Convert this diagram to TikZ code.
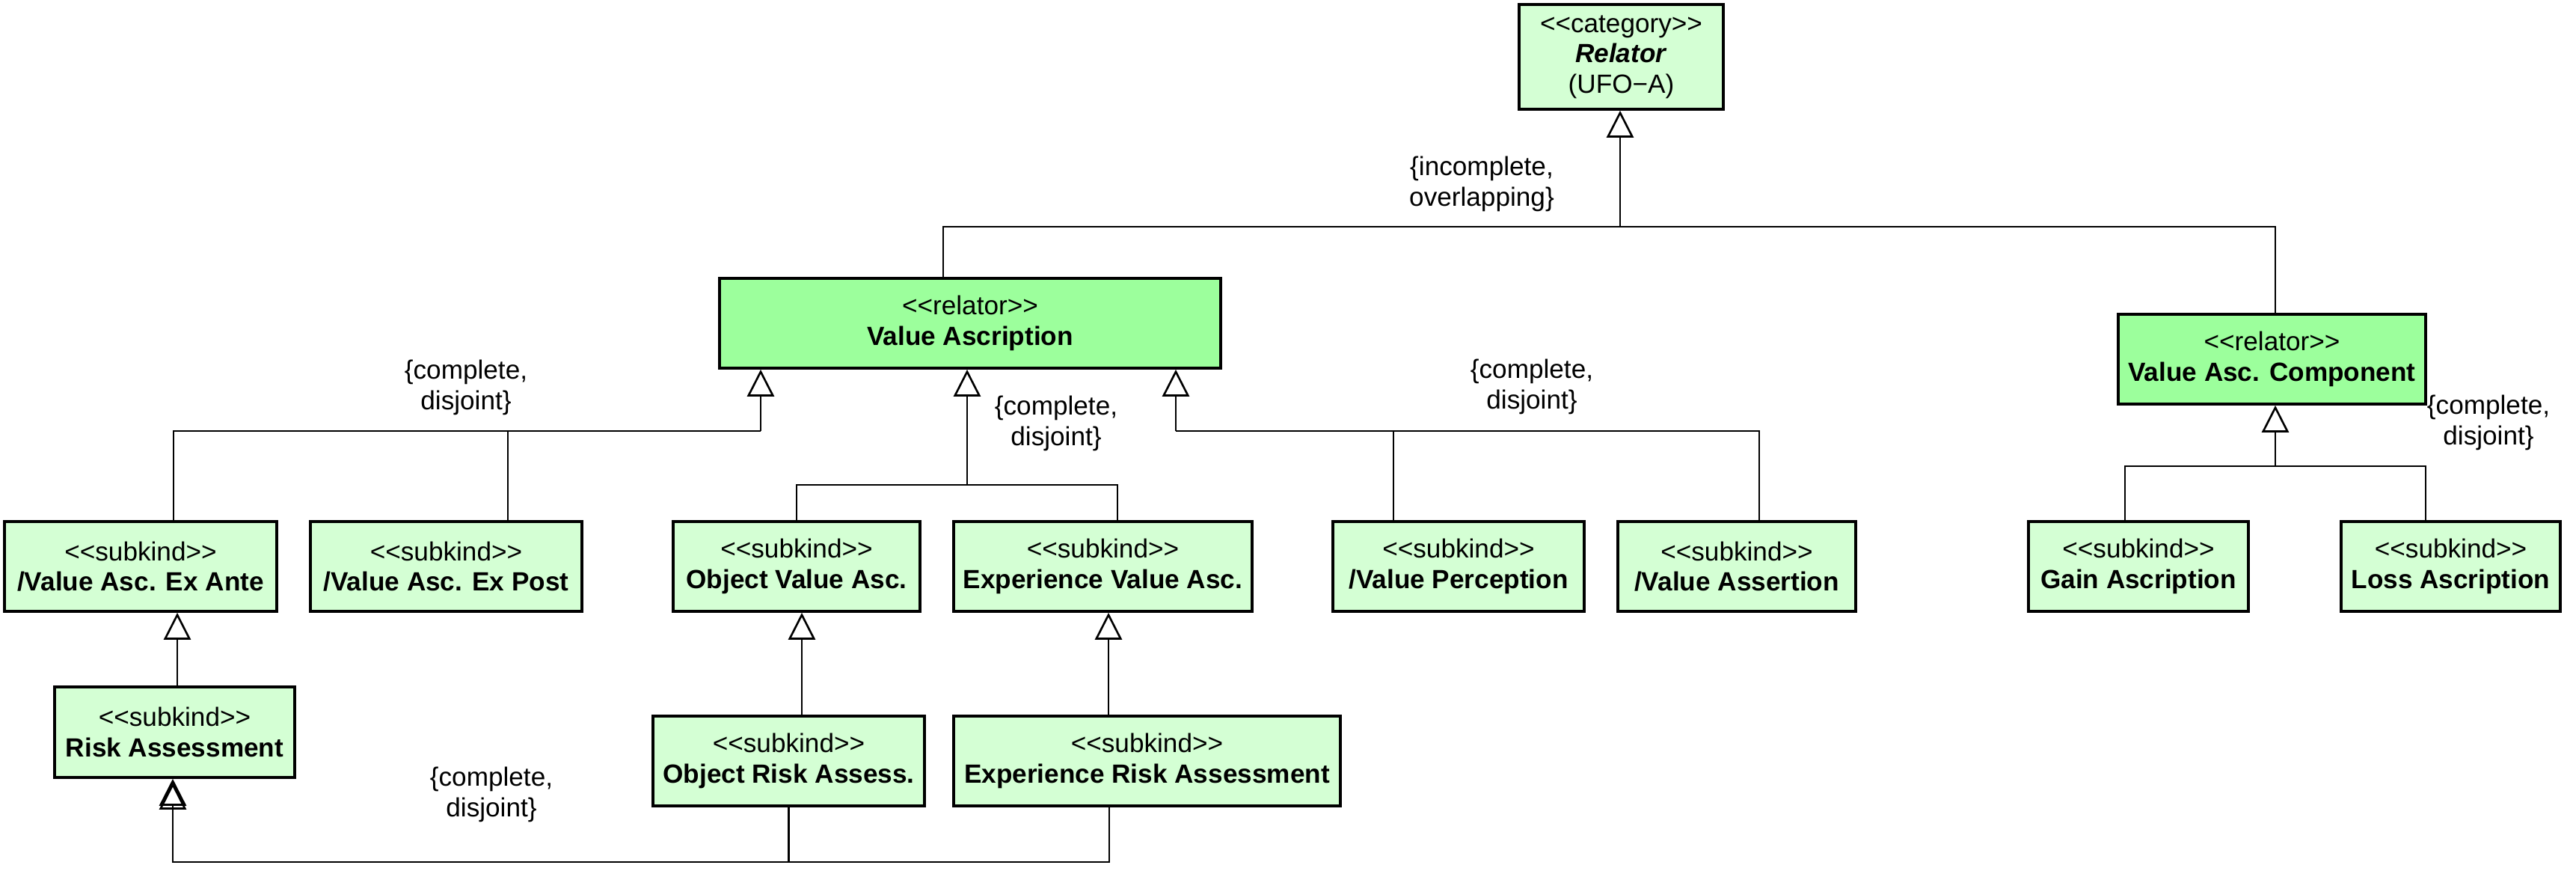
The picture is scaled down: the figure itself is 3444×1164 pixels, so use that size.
\documentclass[tikz,border=0pt]{standalone}
\usepackage{fontspec}
\setmainfont{Liberation Sans}
\usetikzlibrary{arrows.meta}
\definecolor{Subkind}{HTML}{D4FFD4}
\definecolor{Relator}{HTML}{9CFF9C}
\newcommand{\stereo}[1]{<{}<#1>{}>}
\begin{document}
\begin{tikzpicture}[x=0.01cm,y=-0.01cm,
box/.style={draw,line width=1pt,fill=#1,minimum height=1.2cm,align=center,inner sep=0pt},
conn/.style={line width=0.75pt},
gen/.style={conn,-{Triangle[open,width=3.6mm,length=3.6mm]}},
lbl/.style={align=center,inner sep=0pt},
nodes={font=\fontsize{10}{11.5}\selectfont}]
\useasboundingbox (0,0) rectangle (3444,1164);
% classes
\node[box=Subkind,minimum width=2.73cm,minimum height=1.4cm] (relcat) at (2167.5,76)
  {\stereo{category}\\\textbf{\textit{Relator}}\\(UFO−A)};
\node[box=Relator,minimum width=6.7cm] (va) at (1297,432) {\stereo{relator}\\\textbf{Value Ascription}};
\node[box=Relator,minimum width=4.11cm] (vac) at (3037.5,480) {\stereo{relator}\\\textbf{Value Asc. Component}};
\node[box=Subkind,minimum width=3.64cm] (exante) at (188,757) {\stereo{subkind}\\\textbf{/Value Asc. Ex Ante}};
\node[box=Subkind,minimum width=3.63cm] (expost) at (596.5,757) {\stereo{subkind}\\\textbf{/Value Asc. Ex Post}};
\node[box=Subkind,minimum width=3.3cm] (ova) at (1065,757) {\stereo{subkind}\\\textbf{Object Value Asc.}};
\node[box=Subkind,minimum width=3.99cm] (eva) at (1474.5,757) {\stereo{subkind}\\\textbf{Experience Value Asc.}};
\node[box=Subkind,minimum width=3.36cm] (vperc) at (1950,757) {\stereo{subkind}\\\textbf{/Value Perception}};
\node[box=Subkind,minimum width=3.18cm] (vass) at (2322,757) {\stereo{subkind}\\\textbf{/Value Assertion}};
\node[box=Subkind,minimum width=2.94cm] (gain) at (2859,757) {\stereo{subkind}\\\textbf{Gain Ascription}};
\node[box=Subkind,minimum width=2.93cm] (loss) at (3276.5,757) {\stereo{subkind}\\\textbf{Loss Ascription}};
\node[box=Subkind,minimum width=3.21cm,minimum height=1.21cm] (risk) at (233.5,978.5) {\stereo{subkind}\\\textbf{Risk Assessment}};
\node[box=Subkind,minimum width=3.63cm] (ora) at (1054.5,1017) {\stereo{subkind}\\\textbf{Object Risk Assess.}};
\node[box=Subkind,minimum width=5.17cm] (era) at (1533.5,1017) {\stereo{subkind}\\\textbf{Experience Risk Assessment}};
% generalization sets
\coordinate (jtop) at (2166,303);
\draw[gen] (jtop) -- (jtop |- relcat.south);
\draw[conn] (jtop) -| ([xshift=-.36cm]va.north);
\draw[conn] (jtop) -| ([xshift=.045cm]vac.north);
\coordinate (jl) at (1017,576);
\draw[gen] (jl) -- (jl |- va.south);
\draw[conn] (jl) -| ([xshift=.44cm]exante.north);
\draw[conn] (jl) -| ([xshift=.825cm]expost.north);
\coordinate (jm) at (1293,648);
\draw[gen] (jm) -- (jm |- va.south);
\draw[conn] (jm) -| (ova.north);
\draw[conn] (jm) -| ([xshift=.195cm]eva.north);
\coordinate (jr) at (1572,576);
\draw[gen] (jr) -- (jr |- va.south);
\draw[conn] (jr) -| ([xshift=-.87cm]vperc.north);
\draw[conn] (jr) -| ([xshift=.3cm]vass.north);
\coordinate (jc) at (3042,623);
\draw[gen] (jc) -- (jc |- vac.south);
\draw[conn] (jc) -| ([xshift=-.18cm]gain.north);
\draw[conn] (jc) -| ([xshift=-.335cm]loss.north);
% single generalizations
\draw[gen] ([xshift=.49cm]exante.south |- risk.north) -- ([xshift=.49cm]exante.south);
\draw[gen] ([xshift=.07cm]ova.south |- ora.north) -- ([xshift=.07cm]ova.south);
\draw[gen] ([xshift=.075cm]eva.south |- era.north) -- ([xshift=.075cm]eva.south);
\coordinate (jb) at (231,1152);
\draw[gen] (ora.south) |- (jb) -- (jb |- risk.south);
\draw[gen,shorten >=0.05cm] ([xshift=-.505cm]era.south) |- (jb) -- (jb |- risk.south);
% constraints
\node[lbl] (ctop) at (1981,246) {\{incomplete,\\overlapping\}};
\node[lbl] (cleft) at (623,518) {\{complete,\\disjoint\}};
\node[lbl] (cmid) at (1412,566) {\{complete,\\disjoint\}};
\node[lbl] (cright) at (2048,517) {\{complete,\\disjoint\}};
\node[lbl] (cvac) at (3327,565) {\{complete,\\disjoint\}};
\node[lbl] (cbot) at (657,1062) {\{complete,\\disjoint\}};
\end{tikzpicture}
\end{document}
